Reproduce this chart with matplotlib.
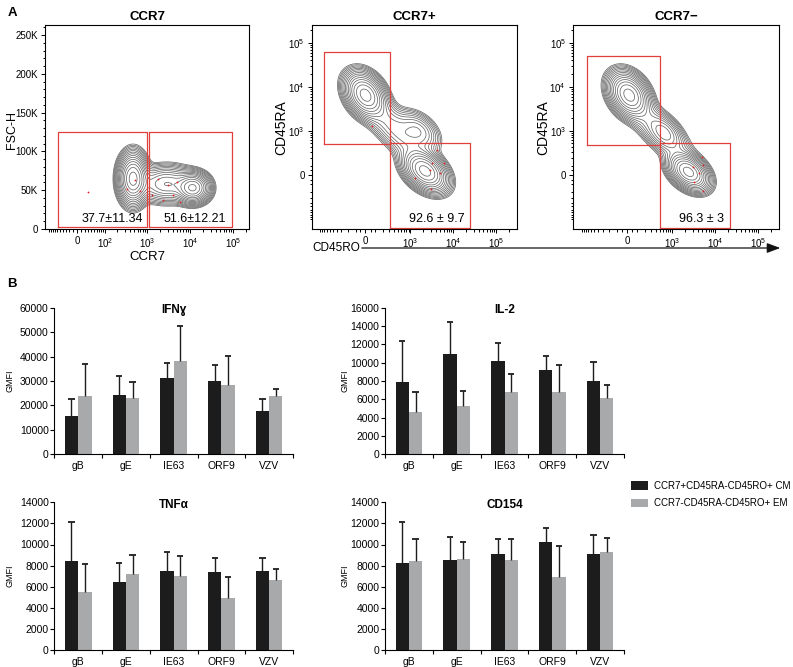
import numpy as np
import matplotlib
matplotlib.use('Agg')
import matplotlib.pyplot as plt
from matplotlib.patches import FancyArrowPatch

plt.rcParams['font.family'] = ['Liberation Sans', 'DejaVu Sans']
plt.rcParams['mathtext.fontset'] = 'custom'
plt.rcParams['mathtext.rm'] = 'Liberation Sans'
plt.rcParams['mathtext.it'] = 'Liberation Sans:italic'
plt.rcParams['mathtext.bf'] = 'Liberation Sans:bold'

# ---------------- panel A: gating data ----------------
# gates as (x0, x1, y0, y1) in data units
ccr7_gates = [(-57, 978, 2600, 125000), (1130, 93500, 2600, 125000)]
ccr7pos_gates = [(-830, 306, 478, 63000), (320, 24100, -1600, 506)]
ccr7neg_gates = [(-745, 502, 452, 51300), (502, 21600, -1600, 506)]

ccr7_freqs = ['37.7±11.34', '51.6±12.21']
ccr7pos_freq = '92.6 ± 9.7'
ccr7neg_freq = '96.3 ± 3'

# cell populations: centre x, centre y (data units), spread x, spread y (scale units), corr, weight
ccr7_pops = [(470, 65000, 0.36, 15000, 0.0, 1.0),
             (11700, 53000, 0.42, 9000, 0.0, 0.9),
             (2850, 58000, 0.75, 11000, 0.0, 0.35)]
ccr7pos_pops = [(0, 6600, 0.5, 0.55, -0.3, 1.0),
                (2200, 40, 0.55, 0.5, -0.4, 1.0),
                (1500, 1000, 0.55, 0.5, -0.4, 0.18),
                (428, 1094, 1.0, 1.0, -0.8, 0.16)]
ccr7neg_pops = [(20, 6600, 0.5, 0.55, -0.3, 1.0),
                (2390, 31, 0.5, 0.45, -0.4, 1.0),
                (653, 893, 0.45, 0.45, -0.4, 0.2),
                (450, 1100, 0.95, 0.95, -0.8, 0.14)]

# outlier events shown in red
ccr7_dots_x = [30, 526, 335, 683, 1820, 3100, 4900, 4090, 2400, 5870, 1280]
ccr7_dots_y = [48000, 63000, 52000, 49000, 65000, 57000, 61000, 44000, 37000, 35000, 44000]
ccr7pos_dots_x = [66, 3200, 2920, 4180, 1305, 5000, 5940, 3040]
ccr7pos_dots_y = [1290, 130, 53, 344, -35, 18, 130, -164]
ccr7neg_dots_x = [4900, 5060, 3260, 5270, 4270, 2980]
ccr7neg_dots_y = [222, 109, -72, -183, 18, 89]

# ---------------- panel B: GMFI data ----------------
antigens = ['gB', 'gE', 'IE63', 'ORF9', 'VZV']
series_names = ['CCR7+CD45RA-CD45RO+ CM', 'CCR7-CD45RA-CD45RO+ EM']

ifng_cm = [15700, 24400, 31300, 29900, 17800]
ifng_cm_sd = [7100, 7800, 5900, 6600, 5000]
ifng_em = [23700, 23200, 38100, 28500, 23700]
ifng_em_sd = [13100, 6200, 14400, 11800, 3200]

il2_cm = [7900, 11000, 10200, 9200, 8000]
il2_cm_sd = [4450, 3450, 1950, 1550, 2100]
il2_em = [4650, 5300, 6800, 6830, 6180]
il2_em_sd = [2150, 1650, 1950, 2950, 1350]

tnfa_cm = [8440, 6420, 7520, 7390, 7460]
tnfa_cm_sd = [3660, 1800, 1800, 1300, 1300]
tnfa_em = [5530, 7180, 7020, 4900, 6640]
tnfa_em_sd = [2620, 1800, 1890, 2020, 1040]

cd154_cm = [8280, 8500, 9100, 10270, 9130]
cd154_cm_sd = [3880, 2240, 1420, 1300, 1770]
cd154_em = [8440, 8600, 8530, 6920, 9260]
cd154_em_sd = [2110, 1610, 1960, 2900, 1330]

W, H = 793, 667
fig = plt.figure(figsize=(W / 100, H / 100), dpi=100)


def px_rect(left, top, right, bottom):
    return [left / W, 1 - bottom / H, (right - left) / W, (bottom - top) / H]


def asinh_scale(w):
    return (lambda v: np.arcsinh(np.asarray(v, dtype=float) / w),
            lambda t: w * np.sinh(np.asarray(t, dtype=float)))


linear_scale = (lambda v: np.asarray(v, dtype=float), lambda t: np.asarray(t, dtype=float))


def logicle_minor(lo, hi, first=1):
    ticks = []
    for n in range(first, 6):
        for k in range(1, 10):
            for s in (-1, 1):
                v = s * k * 10 ** n
                if lo < v < hi:
                    ticks.append(v)
    return ticks


def flow_axes(rect, title):
    ax = fig.add_axes(rect)
    ax.set_title(title, fontsize=9.5, fontweight='bold', pad=3.5)
    for s in ax.spines.values():
        s.set_linewidth(0.8)
    ax.tick_params(which='both', direction='out', top=False, right=False, labelsize=7, width=0.7)
    ax.tick_params(which='major', length=3, pad=2)
    ax.tick_params(which='minor', length=1.8)
    return ax


def draw_pops(ax, fx, fy, xlim, ylim, pops):
    tx = np.linspace(fx[0](xlim[0]), fx[0](xlim[1]), 400)
    ty = np.linspace(fy[0](ylim[0]), fy[0](ylim[1]), 400)
    TX, TY = np.meshgrid(tx, ty)
    Z = np.zeros_like(TX)
    for cx, cy, sx, sy, r, wt in pops:
        dx = (TX - fx[0](cx)) / sx
        dy = (TY - fy[0](cy)) / sy
        Z += wt * np.exp(-0.5 * (dx * dx - 2 * r * dx * dy + dy * dy) / (1 - r * r))
    levels = Z.max() * np.geomspace(0.012, 0.85, 15)
    ax.contour(fx[1](TX), fy[1](TY), Z, levels=levels, colors='#686868', linewidths=0.55)


def draw_gates(ax, gates):
    for x0, x1, y0, y1 in gates:
        ax.plot([x0, x1, x1, x0, x0], [y0, y0, y1, y1, y0], color='#e0403c', lw=0.9)


# ---- CCR7 plot ----
fx1 = asinh_scale(47)
ax1 = flow_axes(px_rect(45, 25, 249, 229), 'CCR7')
ax1.set_xscale('function', functions=fx1)
x1lim, y1lim = (-126, 235000), (0, 263000)
draw_pops(ax1, fx1, linear_scale, x1lim, y1lim, ccr7_pops)
draw_gates(ax1, ccr7_gates)
ax1.plot(ccr7_dots_x, ccr7_dots_y, 'o', color='#e02020', ms=1.3, mew=0)
ax1.set_xlim(x1lim)
ax1.set_ylim(y1lim)
ax1.set_xticks([0, 1e2, 1e3, 1e4, 1e5], ['0', '$10^2$', '$10^3$', '$10^4$', '$10^5$'])
ax1.set_xticks(logicle_minor(*x1lim), minor=True)
ax1.set_yticks([0, 50000, 100000, 150000, 200000, 250000], ['0', '50K', '100K', '150K', '200K', '250K'])
ax1.set_yticks(np.arange(10000, 260001, 10000), minor=True)
ax1.text(0.328, 0.05, ccr7_freqs[0], transform=ax1.transAxes, ha='center', va='center', fontsize=9)
ax1.text(0.733, 0.05, ccr7_freqs[1], transform=ax1.transAxes, ha='center', va='center', fontsize=9)

# ---- CCR7+ / CCR7- plots ----
fxm = asinh_scale(180)
fym = asinh_scale(200)
xmlim, ymlim = (-1600, 300000), (-1690, 256000)
for rect, title, gates, pops, dx, dy, freq, fpos in [
        (px_rect(311.7, 25, 516.7, 229), 'CCR7+', ccr7pos_gates, ccr7pos_pops,
         ccr7pos_dots_x, ccr7pos_dots_y, ccr7pos_freq, 0.61),
        (px_rect(573, 25, 779, 229), 'CCR7\u2212', ccr7neg_gates, ccr7neg_pops,
         ccr7neg_dots_x, ccr7neg_dots_y, ccr7neg_freq, 0.624)]:
    ax = flow_axes(rect, title)
    ax.set_xscale('function', functions=fxm)
    ax.set_yscale('function', functions=fym)
    draw_pops(ax, fxm, fym, xmlim, ymlim, pops)
    draw_gates(ax, gates)
    ax.plot(dx, dy, 'o', color='#e02020', ms=1.3, mew=0)
    ax.set_xlim(xmlim)
    ax.set_ylim(ymlim)
    ax.set_xticks([0, 1e3, 1e4, 1e5], ['0', '$10^3$', '$10^4$', '$10^5$'])
    ax.set_yticks([0, 1e3, 1e4, 1e5], ['0', '$10^3$', '$10^4$', '$10^5$'])
    ax.set_xticks(logicle_minor(*xmlim, first=2) + [-50, 50], minor=True)
    ax.set_yticks(logicle_minor(*ymlim, first=2) + [-50, 50], minor=True)
    ax.text(fpos, 0.05, freq, transform=ax.transAxes, ha='center', va='center', fontsize=9)

# axis labels of panel A
fig.text(12 / W, 1 - 130 / H, 'FSC-H', rotation=90, ha='center', va='center', fontsize=9)
fig.text(147 / W, 1 - 257 / H, 'CCR7', ha='center', va='center', fontsize=9.5)
fig.text(281 / W, 1 - 128 / H, 'CD45RA', rotation=90, ha='center', va='center', fontsize=10)
fig.text(543 / W, 1 - 128 / H, 'CD45RA', rotation=90, ha='center', va='center', fontsize=10)
fig.text(312 / W, 1 - 248 / H, 'CD45RO', ha='left', va='center', fontsize=8.5)
fig.add_artist(FancyArrowPatch((359 / W, 1 - 248 / H), (783 / W, 1 - 248 / H),
                               transform=fig.transFigure, arrowstyle='-|>,head_length=0.8,head_width=0.3',
                               mutation_scale=10, color='#111111', lw=0.9))

fig.text(12 / W, 1 - 13 / H, 'A', ha='center', va='center', fontsize=9.5, fontweight='bold')
fig.text(12 / W, 1 - 284 / H, 'B', ha='center', va='center', fontsize=9.5, fontweight='bold')


# ---------------- panel B bar charts ----------------
def bar_panel(rect, title, cm, cm_sd, em, em_sd, ymax, ystep, label_x):
    ax = fig.add_axes(rect)
    x = np.arange(len(antigens))
    w = 0.28
    bars = [ax.bar(x - w / 2, cm, w, color='#1c1c1c', label=series_names[0]),
            ax.bar(x + w / 2, em, w, color='#a8a9ab', label=series_names[1])]
    # upper error bars only
    for xs, m, sd in ((x - w / 2, cm, cm_sd), (x + w / 2, em, em_sd)):
        top = np.array(m) + np.array(sd)
        ax.vlines(xs, m, top, color='#1c1c1c', lw=1.0)
        ax.hlines(top, xs - 0.065, xs + 0.065, color='#1c1c1c', lw=1.3)
    ax.set_xlim(-0.5, len(antigens) - 0.5)
    ax.set_ylim(0, ymax)
    ax.set_yticks(np.arange(0, ymax + 1, ystep))
    ax.set_xticks(np.arange(-0.5, len(antigens)), [])
    ax.set_xticks(x, antigens, minor=True)
    for s in ('top', 'right'):
        ax.spines[s].set_visible(False)
    for s in ('left', 'bottom'):
        ax.spines[s].set_linewidth(0.8)
    ax.tick_params(axis='y', labelsize=7.5, length=3, width=0.8, pad=1)
    ax.tick_params(axis='x', which='major', length=3, width=0.8)
    ax.tick_params(axis='x', which='minor', length=0, labelsize=7.5, pad=5)
    ax.text(0.5, 0.985, title, transform=ax.transAxes, ha='center', va='center',
            fontsize=8.5, fontweight='bold')
    bb = ax.get_position()
    fig.text(label_x / W, bb.y0 + bb.height / 2, 'GMFI', rotation=90, ha='center', va='center', fontsize=6.5)
    return ax, bars


bar_panel(px_rect(54.3, 307.7, 293, 454.3), 'IFN\u0263', ifng_cm, ifng_cm_sd, ifng_em, ifng_em_sd, 60000, 10000, 10)
bar_panel(px_rect(385, 307.7, 624, 454.3), 'IL-2', il2_cm, il2_cm_sd, il2_em, il2_em_sd, 16000, 2000, 345)
bar_panel(px_rect(54.3, 502.3, 293, 650), 'TNF\u03b1', tnfa_cm, tnfa_cm_sd, tnfa_em, tnfa_em_sd, 14000, 2000, 10)
ax_cd, bars = bar_panel(px_rect(385, 502.3, 624, 650), 'CD154', cd154_cm, cd154_cm_sd, cd154_em, cd154_em_sd,
                        14000, 2000, 345)

fig.legend(handles=bars, labels=series_names, loc='upper left', bbox_to_anchor=(631 / W, 1 - 481 / H),
           frameon=False, fontsize=7, handlelength=1.75, handleheight=0.95, handletextpad=0.6,
           labelspacing=0.75, borderpad=0, borderaxespad=0)

fig.savefig('out.png', dpi=100)
